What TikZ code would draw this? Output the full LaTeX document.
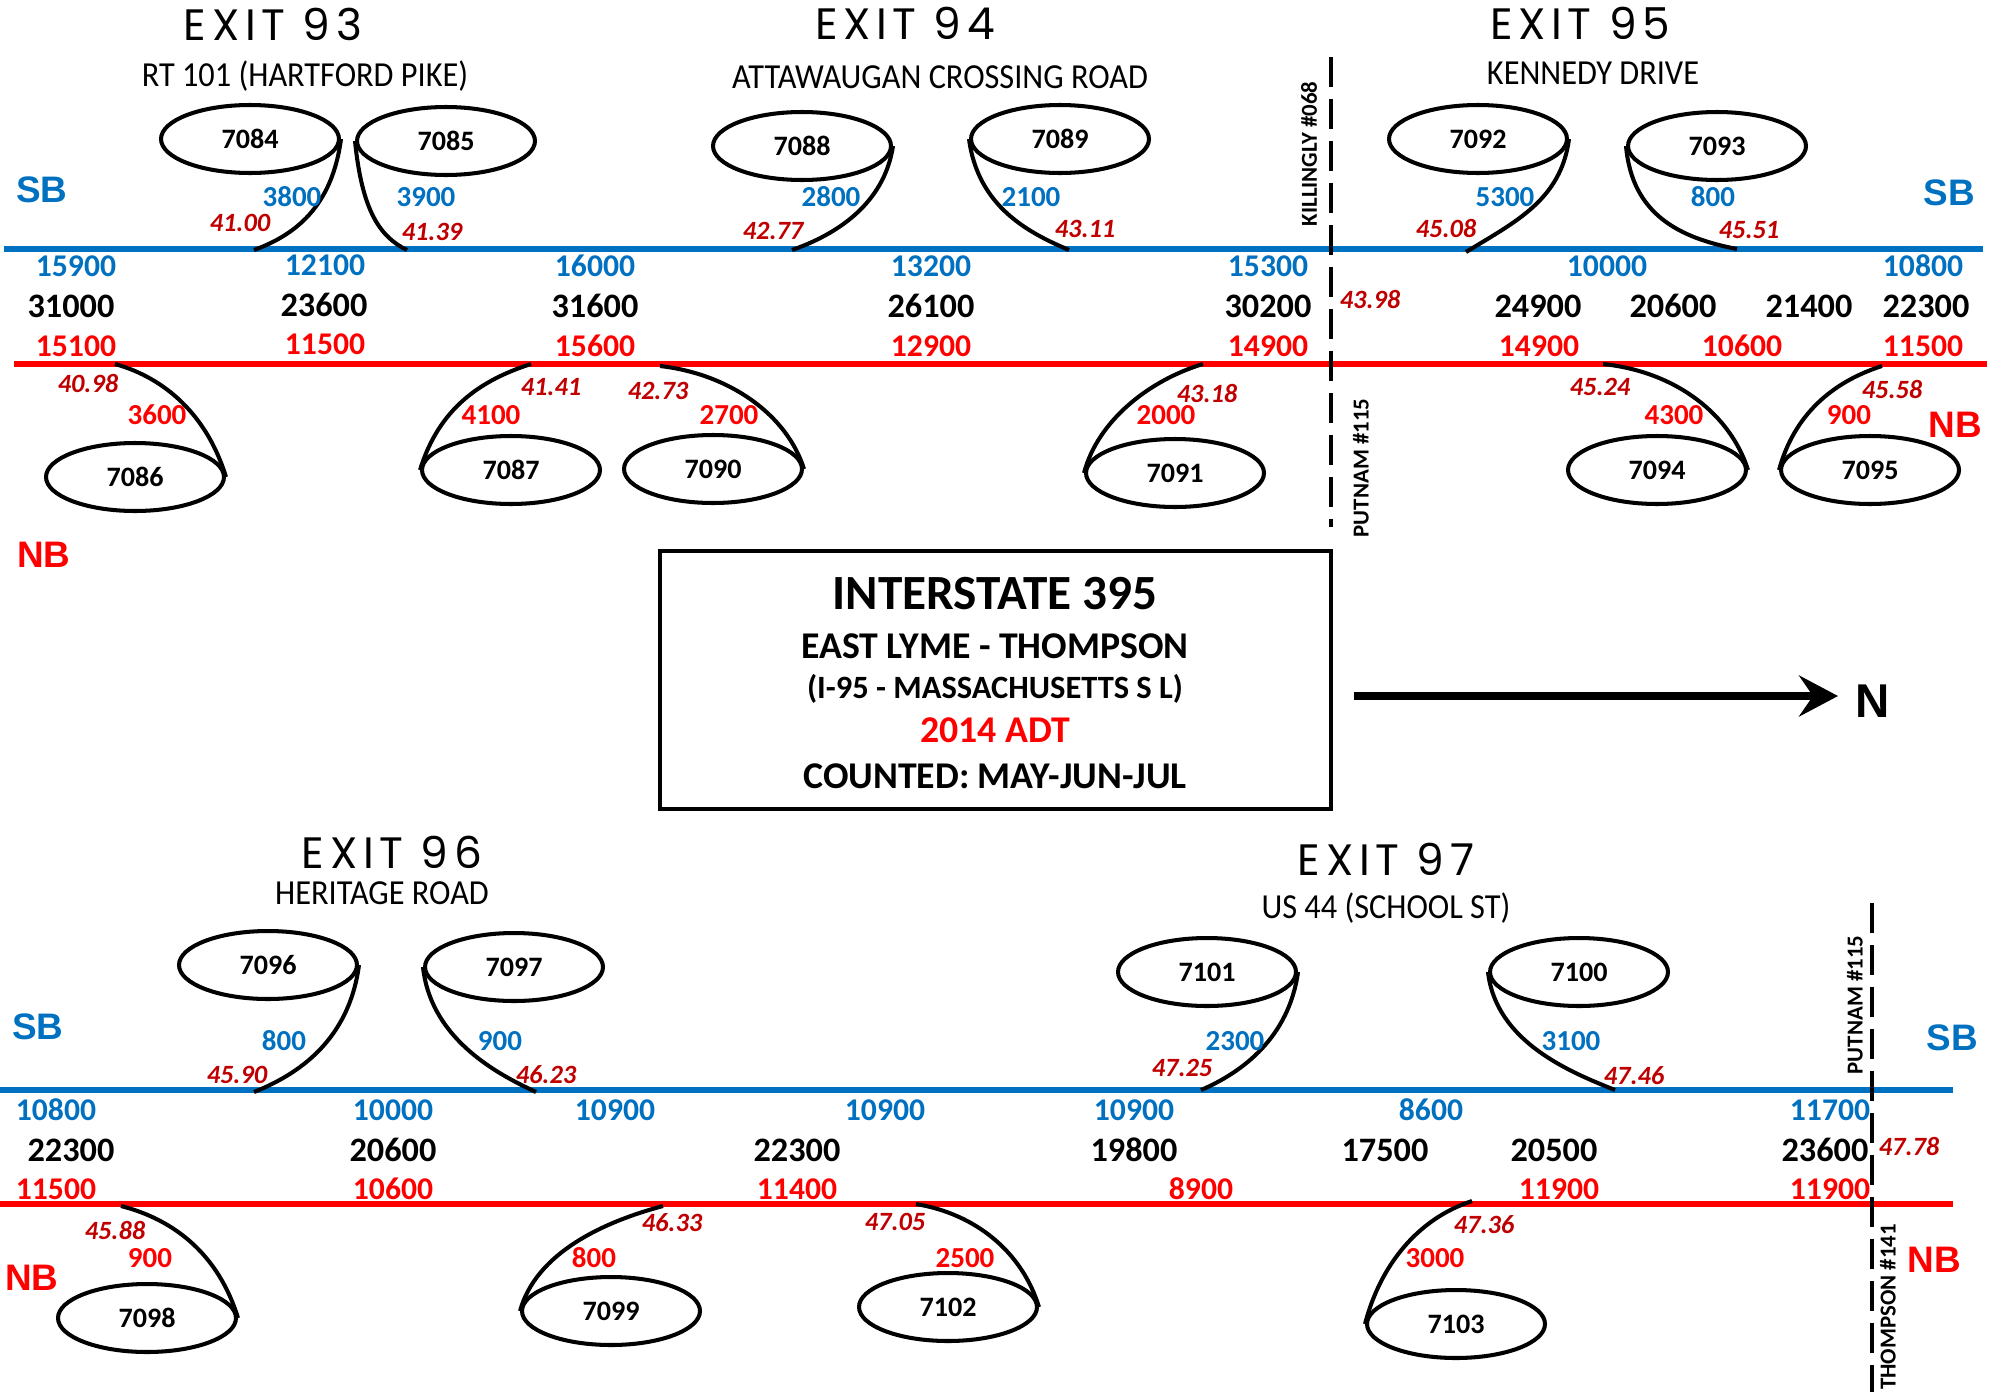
\documentclass[tikz,border=0pt]{standalone}
\usepackage{fontspec}
\setmainfont{Carlito}
\newfontfamily\arialfont{Liberation Sans}
\newfontfamily\exitfont[LetterSpace=13]{Poppins}
\usetikzlibrary{shapes.geometric,arrows.meta}
\definecolor{sbblue}{RGB}{0,112,192}
\definecolor{nbred}{RGB}{255,0,0}
\definecolor{mpred}{RGB}{192,0,0}
\def\fs#1{\fontsize{#1}{#1}\selectfont}
\def\narrow#1{\scalebox{0.92}[1]{#1}}
\tikzset{
	sbline/.style={draw=sbblue, line width=3.1pt},
	nbline/.style={draw=nbred, line width=3.1pt},
	ramp/.style={line width=2.3pt},
	loopell/.style={ellipse, draw, line width=2.3pt, minimum width=3.56cm, minimum height=1.36cm, inner sep=0pt, font=\bfseries\fs{16}},
	sbvol/.style={text=sbblue, font=\bfseries\fs{16.5}},
	nbvol/.style={text=nbred, font=\bfseries\fs{16.5}},
	sbmain/.style={text=sbblue, font=\bfseries\fs{18}},
	nbmain/.style={text=nbred, font=\bfseries\fs{18}},
	total/.style={font=\bfseries\fs{19.5}},
	mpost/.style={text=mpred, font=\bfseries\itshape\fs{15}},
	exitlbl/.style={inner sep=0pt, text height=17.5pt, text depth=0pt, font=\exitfont\fs{25}},
	street/.style={inner sep=0pt, text height=12.6pt, text depth=0pt, font=\fs{20}},
	dirsb/.style={text=sbblue, font=\arialfont\bfseries\fs{21}},
	dirnb/.style={text=nbred, font=\arialfont\bfseries\fs{21}},
	town/.style={rotate=90, font=\bfseries\fs{13}},
	townline/.style={line width=2.3pt, dash pattern=on 0.6cm off 0.24cm},
	boxtxt/.style={font=\bfseries\fs{21.5}}
}

\begin{document}
\begin{tikzpicture}[x=0.02cm, y=-0.02cm]
			%%%%% START %%%%%
			\useasboundingbox (0,0) rectangle (1997,1396);
			
			% upper half: exits 93 - 95
			\draw[sbline] (4,249) -- (1983,249);
			\draw[nbline] (14,364) -- (1987,364);
			\draw[townline] (1331,57) -- (1331,527);
			
			\node[exitlbl] (x93) at (273,25) {EXIT 93};
			\node[exitlbl] (x94) at (905,24) {EXIT 94};
			\node[exitlbl] (x95) at (1580,24) {EXIT 95};
			\node[street] (s93) at (305,75) {\narrow{RT 101 (HARTFORD PIKE)}};
			\node[street] (s94) at (940,77) {\narrow{ATTAWAUGAN CROSSING ROAD}};
			\node[street] (s95) at (1593,73) {\narrow{KENNEDY DRIVE}};
			
			\node[dirsb] (sbA) at (42,190) {SB};
			\node[dirsb] (sbB) at (1949,193) {SB};
			\node[dirnb] (nbA) at (44,555) {NB};
			\node[dirnb] (nbB) at (1955,425) {NB};
			
			\node[town] (kil) at (1309,154) {KILLINGLY \#068};
			\node[town] (putA) at (1361,468) {PUTNAM \#115};
			\node[mpost] (mp4398) at (1370,300) {43.98};
			
			\node[loopell] (e7084) at (250,139) {7084};
			\node[loopell] (e7085) at (446,141) {7085};
			\node[loopell] (e7086) at (135,477) {7086};
			\node[loopell] (e7087) at (511,470) {7087};
			\node[loopell] (e7088) at (802,146) {7088};
			\node[loopell] (e7089) at (1060,139) {7089};
			\node[loopell] (e7090) at (713,469) {7090};
			\node[loopell] (e7091) at (1175,473) {7091};
			\node[loopell] (e7092) at (1478,139) {7092};
			\node[loopell] (e7093) at (1717,146) {7093};
			\node[loopell] (e7094) at (1657,470) {7094};
			\node[loopell] (e7095) at (1870,470) {7095};
			
			\coordinate (m7084) at (254,250);
			\coordinate (m7085) at (407,250);
			\coordinate (m7086) at (115,364);
			\coordinate (m7087) at (531,364);
			\coordinate (m7088) at (792,250);
			\coordinate (m7089) at (1069,250);
			\coordinate (m7090) at (660,366);
			\coordinate (m7091) at (1203,364);
			\coordinate (m7092) at (1466,252);
			\coordinate (m7093) at (1737,249);
			\coordinate (m7094) at (1603,364);
			\coordinate (m7095) at (1882,366);
			
			\draw[ramp] (e7084.east) .. controls +(-9,68) and +(41,-15) .. (m7084);
			\draw[ramp] (e7085.west) .. controls +(7,70) and +(-27,-13) .. (m7085);
			\draw[ramp] (m7086) .. controls +(50,14) and +(-19,-62) .. (e7086.east);
			\draw[ramp] (m7087) .. controls +(-50,16) and +(19,-62) .. (e7087.west);
			\draw[ramp] (e7088.east) .. controls +(-9,59) and +(43,-15) .. (m7088);
			\draw[ramp] (e7089.west) .. controls +(9,68) and +(-40,-17) .. (m7089);
			\draw[ramp] (m7090) .. controls +(70,8) and +(-17,-54) .. (e7090.east);
			\draw[ramp] (m7091) .. controls +(-53,16) and +(14,-53) .. (e7091.west);
			\draw[ramp] (e7092.east) .. controls +(-8,61) and +(49,-30) .. (m7092);
			\draw[ramp] (e7093.west) .. controls +(6,69) and +(-57,-11) .. (m7093);
			\draw[ramp] (m7094) .. controls +(75,8) and +(-17,-54) .. (e7094.east);
			\draw[ramp] (m7095) .. controls +(-50,16) and +(15,-55) .. (e7095.west);
			
			\node[sbvol] (v3800) at (292,197) {3800};
			\node[sbvol] (v3900) at (426,197) {3900};
			\node[sbvol] (v2800) at (831,197) {2800};
			\node[sbvol] (v2100) at (1031,197) {2100};
			\node[sbvol] (v5300) at (1505,197) {5300};
			\node[sbvol] (v800a) at (1713,197) {800};
			\node[nbvol] (v3600) at (157,415) {3600};
			\node[nbvol] (v4100) at (491,415) {4100};
			\node[nbvol] (v2700) at (729,415) {2700};
			\node[nbvol] (v2000) at (1166,415) {2000};
			\node[nbvol] (v4300) at (1674,415) {4300};
			\node[nbvol] (v900a) at (1849,415) {900};
			
			\node[mpost] (mp4100) at (240,223) {41.00};
			\node[mpost] (mp4139) at (432,232) {41.39};
			\node[mpost] (mp4277) at (773,231) {42.77};
			\node[mpost] (mp4311) at (1085,229) {43.11};
			\node[mpost] (mp4508) at (1446,229) {45.08};
			\node[mpost] (mp4551) at (1749,230) {45.51};
			\node[mpost] (mp4098) at (88,383) {40.98};
			\node[mpost] (mp4141) at (551,387) {41.41};
			\node[mpost] (mp4273) at (658,391) {42.73};
			\node[mpost] (mp4318) at (1207,393) {43.18};
			\node[mpost] (mp4524) at (1600,387) {45.24};
			\node[mpost] (mp4558) at (1892,389) {45.58};
			
			\node[sbmain] (sa1) at (76,266) {15900};
			\node[sbmain] (sa2) at (325,265) {12100};
			\node[sbmain] (sa3) at (595,266) {16000};
			\node[sbmain] (sa4) at (931,266) {13200};
			\node[sbmain] (sa5) at (1268,266) {15300};
			\node[sbmain] (sa6) at (1607,266) {10000};
			\node[sbmain] (sa7) at (1923,266) {10800};
			\node[total] (ta1) at (71,306) {31000};
			\node[total] (ta2) at (324,305) {23600};
			\node[total] (ta3) at (595,306) {31600};
			\node[total] (ta4) at (931,306) {26100};
			\node[total] (ta5) at (1268,306) {30200};
			\node[total] (ta6) at (1538,306) {24900};
			\node[total] (ta7) at (1673,306) {20600};
			\node[total] (ta8) at (1809,306) {21400};
			\node[total] (ta9) at (1926,306) {22300};
			\node[nbmain] (na1) at (76,346) {15100};
			\node[nbmain] (na2) at (325,344) {11500};
			\node[nbmain] (na3) at (595,346) {15600};
			\node[nbmain] (na4) at (931,346) {12900};
			\node[nbmain] (na5) at (1268,346) {14900};
			\node[nbmain] (na6) at (1539,346) {14900};
			\node[nbmain] (na7) at (1742,346) {10600};
			\node[nbmain] (na8) at (1923,346) {11500};
			
			% title box and north arrow
			\node[draw, line width=2.3pt, minimum width=13.42cm, minimum height=5.16cm] (titlebox) at (995.5,680) {};
			\node[boxtxt, font=\bfseries\fs{28}] (t1) at (995,594) {INTERSTATE 395};
			\node[boxtxt] (t2) at (995,646) {EAST LYME - THOMPSON};
			\node[boxtxt, font=\bfseries\fs{18.5}] (t3) at (995,689) {(I-95 - MASSACHUSETTS S L)};
			\node[boxtxt, text=nbred] (t4) at (995,730) {2014 ADT};
			\node[boxtxt] (t5) at (995,776) {COUNTED: MAY-JUN-JUL};
			
			\coordinate (arrS) at (1354,696);
			\coordinate (arrE) at (1838,696);
			\draw[line width=4.5pt, -{Stealth[length=0.78cm, width=0.82cm, inset=0.28cm]}] (arrS) -- (arrE);
			\node[font=\arialfont\bfseries\fs{27}] (north) at (1873,701) {N};
			
			% lower half: exits 96 - 97
			\draw[sbline] (0,1090) -- (1953,1090);
			\draw[nbline] (0,1204) -- (1953,1204);
			\draw[townline] (1872,903) -- (1872,1392);
			
			\node[exitlbl] (x96) at (392,853) {EXIT 96};
			\node[exitlbl] (x97) at (1386,860) {EXIT 97};
			\node[street] (s96) at (382,893) {\narrow{HERITAGE ROAD}};
			\node[street] (s97) at (1386,907) {\narrow{US 44 (SCHOOL ST)}};
			
			\node[dirsb] (sbC) at (38,1027) {SB};
			\node[dirsb] (sbD) at (1952,1038) {SB};
			\node[dirnb] (nbC) at (32,1278) {NB};
			\node[dirnb] (nbD) at (1934,1260) {NB};
			
			\node[town] (putB) at (1855,1005) {PUTNAM \#115};
			\node[town] (tho) at (1888,1307) {THOMPSON \#141};
			\node[mpost] (mp4778) at (1909,1146) {47.78};
			
			\node[loopell] (e7096) at (268,965) {7096};
			\node[loopell] (e7097) at (514,967) {7097};
			\node[loopell] (e7098) at (147,1318) {7098};
			\node[loopell] (e7099) at (611,1311) {7099};
			\node[loopell] (e7101) at (1207,972) {7101};
			\node[loopell] (e7100) at (1579,972) {7100};
			\node[loopell] (e7102) at (948,1307) {7102};
			\node[loopell] (e7103) at (1456,1324) {7103};
			
			\coordinate (m7096) at (254,1092);
			\coordinate (m7097) at (536,1092);
			\coordinate (m7098) at (121,1206);
			\coordinate (m7099) at (663,1206);
			\coordinate (m7101) at (1201,1090);
			\coordinate (m7100) at (1615,1090);
			\coordinate (m7102) at (916,1204);
			\coordinate (m7103) at (1472,1201);
			
			\draw[ramp] (e7096.east) .. controls +(-10,75) and +(45,-18) .. (m7096);
			\draw[ramp] (e7097.west) .. controls +(8,75) and +(-32,-15) .. (m7097);
			\draw[ramp] (m7098) .. controls +(55,14) and +(-19,-62) .. (e7098.east);
			\draw[ramp] (m7099) .. controls +(-60,16) and +(16,-58) .. (e7099.west);
			\draw[ramp] (e7101.east) .. controls +(-9,65) and +(42,-18) .. (m7101);
			\draw[ramp] (e7100.west) .. controls +(8,70) and +(-45,-18) .. (m7100);
			\draw[ramp] (m7102) .. controls +(60,10) and +(-17,-55) .. (e7102.east);
			\draw[ramp] (m7103) .. controls +(-55,18) and +(15,-58) .. (e7103.west);
			
			\node[sbvol] (v800b) at (284,1041) {800};
			\node[sbvol] (v900b) at (500,1041) {900};
			\node[sbvol] (v2300) at (1235,1041) {2300};
			\node[sbvol] (v3100) at (1571,1041) {3100};
			\node[nbvol] (v900c) at (150,1258) {900};
			\node[nbvol] (v800c) at (594,1258) {800};
			\node[nbvol] (v2500) at (965,1258) {2500};
			\node[nbvol] (v3000) at (1435,1258) {3000};
			
			\node[mpost] (mp4590) at (237,1075) {45.90};
			\node[mpost] (mp4623) at (546,1075) {46.23};
			\node[mpost] (mp4725) at (1182,1068) {47.25};
			\node[mpost] (mp4746) at (1634,1076) {47.46};
			\node[mpost] (mp4588) at (115,1230) {45.88};
			\node[mpost] (mp4633) at (672,1223) {46.33};
			\node[mpost] (mp4705) at (895,1222) {47.05};
			\node[mpost] (mp4736) at (1484,1225) {47.36};
			
			\node[sbmain] (sb1) at (56,1110) {10800};
			\node[sbmain] (sb2) at (393,1110) {10000};
			\node[sbmain] (sb3) at (615,1110) {10900};
			\node[sbmain] (sb4) at (885,1110) {10900};
			\node[sbmain] (sb5) at (1134,1110) {10900};
			\node[sbmain] (sb6) at (1431,1110) {8600};
			\node[sbmain] (sb7) at (1830,1110) {11700};
			\node[total] (tb1) at (71,1150) {22300};
			\node[total] (tb2) at (393,1150) {20600};
			\node[total] (tb3) at (797,1150) {22300};
			\node[total] (tb4) at (1134,1150) {19800};
			\node[total] (tb5) at (1385,1150) {17500};
			\node[total] (tb6) at (1554,1150) {20500};
			\node[total] (tb7) at (1825,1150) {23600};
			\node[nbmain] (nb1) at (56,1189) {11500};
			\node[nbmain] (nb2) at (393,1189) {10600};
			\node[nbmain] (nb3) at (797,1189) {11400};
			\node[nbmain] (nb4) at (1201,1189) {8900};
			\node[nbmain] (nb5) at (1559,1189) {11900};
			\node[nbmain] (nb6) at (1830,1189) {11900};
			%%%%% END %%%%%
\end{tikzpicture}
\end{document}
